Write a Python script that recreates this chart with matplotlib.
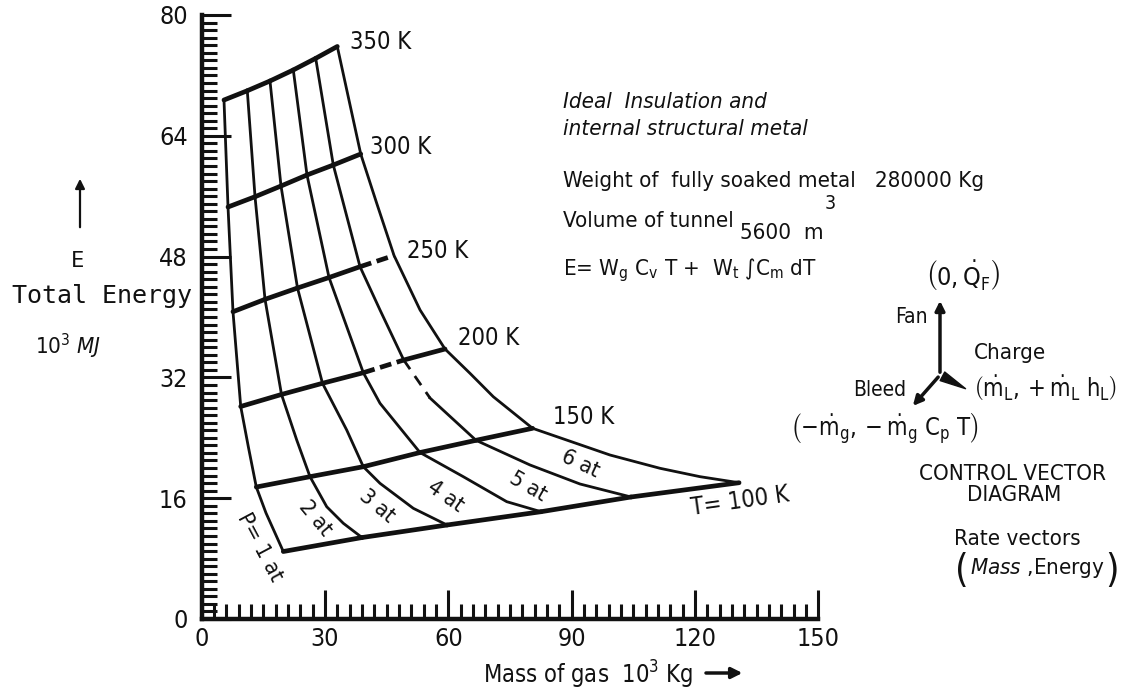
import matplotlib
matplotlib.use("Agg")
import matplotlib.pyplot as plt
from matplotlib import font_manager
from matplotlib.ticker import MultipleLocator

# --- DATA: mass of gas (10^3 kg) and total energy (10^3 MJ) ---
TEMPS = [350, 300, 250, 200, 150, 100]
PRESSURES = [1, 2, 3, 4, 5, 6]

# grid nodes: one row per isotherm, one column per isobar
NODE_MASS = [
    [5.42, 11.09, 16.61, 22.28, 27.73, 32.98],
    [6.40, 12.97, 19.29, 25.61, 32.01, 38.68],
    [7.61, 15.40, 23.30, 30.97, 38.51, 46.78],
    [9.49, 19.41, 29.38, 39.31, 49.14, 59.18],
    [13.28, 26.34, 39.31, 53.10, 66.72, 80.47],
    [19.85, 38.99, 59.67, 82.53, 104.43, 130.70],
]
NODE_ENERGY = [
    [68.74, 69.97, 71.26, 72.72, 74.26, 75.83],
    [54.57, 55.93, 57.35, 58.81, 60.13, 61.59],
    [40.70, 42.34, 43.84, 45.23, 46.66, 48.15],
    [28.15, 29.74, 31.22, 32.62, 34.30, 35.76],
    [17.48, 18.85, 20.17, 22.05, 23.67, 25.26],
    [8.94, 10.79, 12.45, 14.21, 16.16, 18.05],
]

# isobar traces, running from 350 K down to 100 K
P1_MASS = [5.42, 6.40, 7.61, 9.49, 11.34, 13.28, 15.64, 17.83, 19.85]
P1_ENERGY = [68.74, 54.57, 40.70, 28.15, 22.82, 17.48, 14.04, 11.39, 8.94]
P2_MASS = [11.09, 12.97, 15.40, 19.41, 23.11, 26.34, 30.41, 34.44, 38.99]
P2_ENERGY = [69.97, 55.93, 42.34, 29.74, 23.71, 18.85, 14.87, 12.68, 10.79]
P3_MASS = [16.61, 19.29, 23.30, 29.38, 35.27, 39.31, 43.37, 51.47, 59.67]
P3_ENERGY = [71.26, 57.35, 43.84, 31.22, 25.03, 20.17, 17.97, 14.66, 12.45]
P4_MASS = [22.28, 25.61, 30.97, 39.31, 43.37, 53.10, 63.63, 74.19, 82.53]
P4_ENERGY = [72.72, 58.81, 45.23, 32.62, 28.57, 22.05, 18.85, 15.54, 14.21]
P5_MASS = [27.73, 32.01, 38.51, 43.37, 49.14, 55.53, 66.72, 79.86, 92.02, 104.43]
P5_ENERGY = [74.26, 60.13, 46.66, 40.93, 34.30, 29.27, 23.67, 20.40, 17.88, 16.16]
P6_MASS = [32.98, 38.68, 42.57, 46.78, 53.11, 59.18, 65.26, 70.93, 80.47,
           99.32, 111.48, 121.21, 130.70]
P6_ENERGY = [75.83, 61.59, 55.06, 48.15, 40.93, 35.76, 32.54, 29.44, 25.26,
             21.72, 19.96, 18.85, 18.05]

X_TICKS = [0, 30, 60, 90, 120, 150]
Y_TICKS = [0, 16, 32, 48, 64, 80]

INK = "#111111"

# pick the narrowest sans face on the machine
faces = {(f.name, f.stretch) for f in font_manager.fontManager.ttflist}
if any(n == "Liberation Sans Narrow" for n, _ in faces):
    FAMILY, STRETCH = "Liberation Sans Narrow", "normal"
elif ("DejaVu Sans", "condensed") in faces:
    FAMILY, STRETCH = "DejaVu Sans", "condensed"
else:
    FAMILY, STRETCH = "Roboto", "normal"

plt.rcParams["font.family"] = [FAMILY, "DejaVu Sans"]
plt.rcParams["font.stretch"] = STRETCH
plt.rcParams["mathtext.fontset"] = "custom"
plt.rcParams["mathtext.rm"] = FAMILY
plt.rcParams["mathtext.it"] = FAMILY + ":italic"
plt.rcParams["mathtext.bf"] = FAMILY + ":bold"
plt.rcParams["text.color"] = INK

fig = plt.figure(figsize=(11.22, 6.94), dpi=100)
ax = fig.add_axes([201.7 / 1122, 75 / 694, 616.7 / 1122, 604 / 694])
ax.set_xlim(0, 150)
ax.set_ylim(0, 80)

for side in ["top", "right"]:
    ax.spines[side].set_visible(False)
for side in ["left", "bottom"]:
    ax.spines[side].set_linewidth(3.2)
    ax.spines[side].set_color(INK)

ax.set_xticks(X_TICKS)
ax.set_yticks(Y_TICKS)
ax.xaxis.set_minor_locator(MultipleLocator(3))
ax.yaxis.set_minor_locator(MultipleLocator(1))
ax.tick_params(which="major", direction="in", length=21, width=2.2,
               color=INK, labelsize=18, labelcolor=INK)
ax.tick_params(which="minor", direction="in", length=10.5, width=2.2, color=INK)
ax.tick_params(axis="x", pad=6)
ax.tick_params(axis="y", pad=10)

# isotherms (thick, nearly straight); a few segments are broken in print
BROKEN = {250: 4, 200: 3}
for i, t in enumerate(TEMPS):
    xs, ys = NODE_MASS[i], NODE_ENERGY[i]
    for j in range(len(xs) - 1):
        ls = (0, (2.5, 1.2)) if BROKEN.get(t) == j else "-"
        ax.plot(xs[j:j + 2], ys[j:j + 2], color=INK, lw=3.4, ls=ls,
                solid_capstyle="round", dash_capstyle="butt")

# isobars
isobars = [(P1_MASS, P1_ENERGY), (P2_MASS, P2_ENERGY), (P3_MASS, P3_ENERGY),
           (P4_MASS, P4_ENERGY), (P5_MASS, P5_ENERGY), (P6_MASS, P6_ENERGY)]
for p, (xs, ys) in zip(PRESSURES, isobars):
    if p == 5:
        ax.plot(xs[:5], ys[:5], color=INK, lw=2.0)
        ax.plot(xs[4:6], ys[4:6], color=INK, lw=2.0, ls=(0, (4, 3)))
        ax.plot(xs[5:], ys[5:], color=INK, lw=2.0)
    else:
        ax.plot(xs, ys, color=INK, lw=2.0)

# isotherm labels
for label, x, y in [("350 K", 36.1, 76.4), ("300 K", 40.9, 62.5),
                    ("250 K", 49.9, 48.7), ("200 K", 62.3, 37.2),
                    ("150 K", 85.4, 26.8)]:
    ax.text(x, y, label, fontsize=17, ha="left", va="center")
ax.text(130.9, 15.6, "T= 100 K", fontsize=17, ha="center", va="center",
        rotation=8, rotation_mode="anchor")

# isobar labels
for label, x, y, rot in [("P= 1 at", 14.2, 9.5, -62), ("2 at", 27.6, 13.4, -50),
                         ("3 at", 42.6, 15.0, -40), ("4 at", 59.2, 16.3, -35),
                         ("5 at", 79.4, 17.6, -30), ("6 at", 92.2, 20.6, -25)]:
    ax.text(x, y, label, fontsize=16, ha="center", va="center",
            rotation=rot, rotation_mode="anchor")

# annotation layer in pixel units
ov = fig.add_axes([0, 0, 1, 1])
ov.set_xlim(0, 1122)
ov.set_ylim(694, 0)
ov.axis("off")
ov.patch.set_alpha(0)

# axis titles
ov.annotate("", xy=(80, 176), xytext=(80, 230),
            arrowprops=dict(arrowstyle="-|>", lw=1.6, color=INK, mutation_scale=14))
ov.text(78, 261, "E", fontsize=16, family="DejaVu Sans Mono", ha="center", va="center")
ov.text(12, 296, "Total Energy", fontsize=18, family="DejaVu Sans Mono",
        ha="left", va="center")
ov.text(35, 346, r"10$^3$ $\mathit{MJ}$", fontsize=16, ha="left", va="center")

xlab = ov.text(483, 675, r"Mass of gas  10$^3$ Kg", fontsize=17, ha="left",
               va="center")

# notes
ov.text(563, 102, "Ideal  Insulation and", fontsize=16, style="italic",
        ha="left", va="center")
ov.text(563, 129, "internal structural metal", fontsize=16, style="italic",
        ha="left", va="center")
ov.text(563, 181, "Weight of  fully soaked metal   280000 Kg", fontsize=16,
        ha="left", va="center")
vol = ov.text(563, 221, "Volume of tunnel", fontsize=16, ha="left", va="center")
ov.text(563, 270, r"E= W$_{\rm g}$ C$_{\rm v}$ T +  W$_{\rm t}$ $\int$C$_{\rm m}$ dT",
        fontsize=16, ha="left", va="center")

# place the trailing pieces after the measured text ends
fig.canvas.draw()
renderer = fig.canvas.get_renderer()
vol_end = vol.get_window_extent(renderer).x1
vol_num = ov.text(vol_end + 6, 233, "5600  m", fontsize=16, ha="left", va="center")
num_end = vol_num.get_window_extent(renderer).x1
ov.text(num_end + 1, 203, "3", fontsize=14, ha="left", va="center")
lab_end = xlab.get_window_extent(renderer).x1
ov.annotate("", xy=(lab_end + 52, 673), xytext=(lab_end + 10, 673),
            arrowprops=dict(arrowstyle="-|>", lw=2.5, color=INK, mutation_scale=16))

# control vector diagram
jx, jy = 940, 375
ov.text(962, 276, r"$\left(0,\dot{\mathrm{Q}}_{\mathrm{F}}\right)$", fontsize=18,
        ha="center", va="center")
ov.annotate("", xy=(jx, 298), xytext=(jx, jy),
            arrowprops=dict(arrowstyle="-|>", lw=2.5, color=INK, mutation_scale=14))
ov.annotate("", xy=(911, 408), xytext=(jx, jy),
            arrowprops=dict(arrowstyle="-|>", lw=2.5, color=INK, mutation_scale=14))
ov.annotate("", xy=(968, 390), xytext=(jx, jy),
            arrowprops=dict(arrowstyle="wedge,tail_width=0.5", lw=1, color=INK,
                            mutation_scale=14))
ov.text(928, 317, "Fan", fontsize=15, ha="right", va="center")
ov.text(1010, 353, "Charge", fontsize=16, ha="center", va="center")
ov.text(1045, 388, r"$\left(\dot{\mathrm{m}}_{\mathrm{L}},+\dot{\mathrm{m}}_{\mathrm{L}}\ \mathrm{h}_{\mathrm{L}}\right)$",
        fontsize=17, ha="center", va="center")
ov.text(880, 390, "Bleed", fontsize=15, ha="center", va="center")
ov.text(884, 428, r"$\left(-\dot{\mathrm{m}}_{\mathrm{g}},-\dot{\mathrm{m}}_{\mathrm{g}}\ \mathrm{C}_{\mathrm{p}}\ \mathrm{T}\right)$",
        fontsize=17, ha="center", va="center")
ov.text(1013, 474, "CONTROL VECTOR", fontsize=16, ha="center", va="center")
ov.text(1014, 495, "DIAGRAM", fontsize=16, ha="center", va="center")
ov.text(1017, 539, "Rate vectors", fontsize=16, ha="center", va="center")
ov.text(1037, 568, r"$\mathit{Mass}$ ,Energy", fontsize=16, ha="center", va="center")
ov.text(962, 571, "(", fontsize=28, ha="center", va="center")
ov.text(1112, 571, ")", fontsize=28, ha="center", va="center")

fig.savefig("out.png", dpi=100, facecolor="white")
